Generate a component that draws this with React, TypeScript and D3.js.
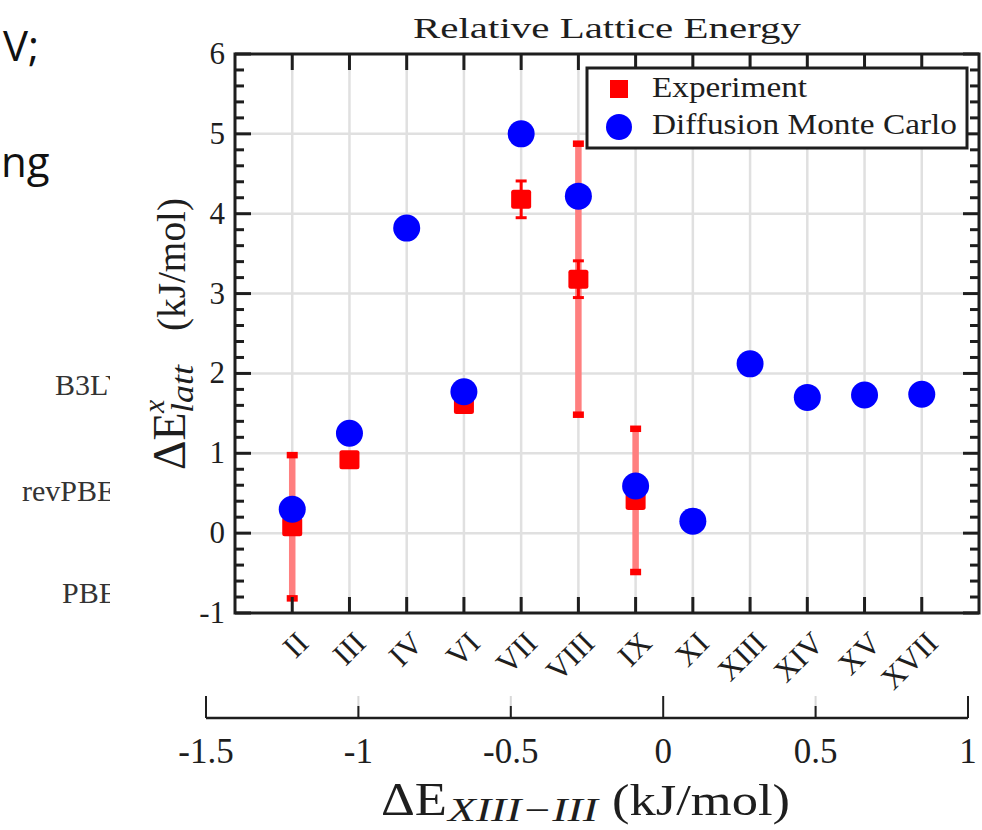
import React from "react";
import * as d3 from "d3";

const categories = ["II", "III", "IV", "VI", "VII", "VIII", "IX", "XI", "XIII", "XIV", "XV", "XVII"];
const dmcValues = [0.30, 1.25, 3.82, 1.77, 5.00, 4.22, 0.59, 0.15, 2.12, 1.70, 1.73, 1.74];
const expValues: (number | null)[] = [0.08, 0.92, null, 1.61, 4.18, 3.18, 0.41, null, null, null, null, null];
const expErrSmall: (number | null)[] = [null, null, null, null, 0.23, 0.23, null, null, null, null, null, null];
const expErrLarge: (number | null)[] = [0.9, null, null, null, null, 1.7, 0.9, null, null, null, null, null];
const yTicks = [-1, 0, 1, 2, 3, 4, 5, 6];
const bottomTicks = [-1.5, -1, -0.5, 0, 0.5, 1];
const bottomTickLabels = ["-1.5", "-1", "-0.5", "0", "0.5", "1"];
const sideLabels = ["B3LYP", "revPBE", "PBE"];

const SERIF = "'Liberation Serif', 'DejaVu Serif', serif";
const SANS = "'Open Sans', 'Liberation Sans', sans-serif";
const INK = "#1e1e1e";

export default function App() {
  const L = 235, R = 979, T = 54, B = 613;
  const x = d3.scaleLinear().domain([0, 13]).range([L, R]);
  const y = d3.scaleLinear().domain([-1, 6]).range([B, T]);
  const xb = d3.scaleLinear().domain([-1.5, 1]).range([206, 968]);
  const axisY = 718;

  const minor = d3.range(-1, 6.0001, 0.2).map((v) => Math.round(v * 10) / 10).filter((v) => Math.abs(v - Math.round(v)) > 1e-6);
  const catX = categories.map((_, i) => x(i + 1));

  return (
    <svg width={982} height={830} style={{ position: "absolute", left: 0, top: 0, background: "#fff" }}>
      <defs>
        <clipPath id="sideclip">
          <rect x={0} y={0} width={110} height={830} />
        </clipPath>
      </defs>
      <rect x={0} y={0} width={982} height={830} fill="#fff" />

      {/* clipped slide text */}
      <text x={39} y={61} textAnchor="end" fontFamily={SANS} fontSize={42} fill="#111">V;</text>
      <text x={1} y={177} fontFamily={SANS} fontSize={42} fill="#111">ng</text>
      <g clipPath="url(#sideclip)" fontFamily={SERIF} fontSize={30} fill="#333">
        <text x={55} y={395}>{sideLabels[0]}</text>
        <text x={22} y={501}>{sideLabels[1]}</text>
        <text x={62} y={603}>{sideLabels[2]}</text>
      </g>

      {/* title */}
      <text x={(L + R) / 2} y={38} textAnchor="middle" fontFamily={SERIF} fontSize={30} fill={INK} textLength={388} lengthAdjust="spacingAndGlyphs">Relative Lattice Energy</text>

      {/* grid */}
      <g stroke="#e0e0e0" strokeWidth={2.5}>
        {catX.map((cx, i) => (
          <line key={"gx" + i} x1={cx} x2={cx} y1={T} y2={B} />
        ))}
        {yTicks.filter((v) => v > -1 && v < 6).map((v) => (
          <line key={"gy" + v} x1={L} x2={R} y1={y(v)} y2={y(v)} />
        ))}
      </g>

      {/* large (light) error bars */}
      {expValues.map((v, i) => {
        const e = expErrLarge[i];
        if (v == null || e == null) return null;
        const cx = catX[i];
        return (
          <g key={"el" + i}>
            <line x1={cx} x2={cx} y1={y(v + e)} y2={y(v - e)} stroke="#ff7f7f" strokeWidth={6.5} />
            <rect x={cx - 5.5} y={y(v + e) - 3} width={11} height={6.5} fill="#ff0000" />
            <rect x={cx - 5.5} y={y(v - e) - 3.5} width={11} height={6.5} fill="#ff0000" />
          </g>
        );
      })}

      {/* small error bars */}
      {expValues.map((v, i) => {
        const e = expErrSmall[i];
        if (v == null || e == null) return null;
        const cx = catX[i];
        return (
          <g key={"es" + i} stroke="#ff0000" strokeWidth={3}>
            <line x1={cx} x2={cx} y1={y(v + e)} y2={y(v - e)} />
            <line x1={cx - 5.5} x2={cx + 5.5} y1={y(v + e)} y2={y(v + e)} />
            <line x1={cx - 5.5} x2={cx + 5.5} y1={y(v - e)} y2={y(v - e)} />
          </g>
        );
      })}

      {/* experiment squares */}
      {expValues.map((v, i) =>
        v == null ? null : (
          <rect key={"sq" + i} x={catX[i] - 10} y={y(v) - 9.5} width={20} height={19} rx={2.5} fill="#ff0000" />
        )
      )}

      {/* DMC circles */}
      {dmcValues.map((v, i) => (
        <circle key={"c" + i} cx={catX[i]} cy={y(v)} r={13.5} fill="#0000ff" />
      ))}

      {/* frame and ticks */}
      <g stroke={INK} strokeWidth={3} fill="none">
        {yTicks.map((v) => (
          <g key={"yt" + v}>
            <line x1={L} x2={L + 16} y1={y(v)} y2={y(v)} />
            <line x1={R} x2={R - 16} y1={y(v)} y2={y(v)} />
          </g>
        ))}
        {minor.map((v) => (
          <g key={"ym" + v}>
            <line x1={L} x2={L + 9} y1={y(v)} y2={y(v)} />
            <line x1={R} x2={R - 9} y1={y(v)} y2={y(v)} />
          </g>
        ))}
        {catX.map((cx, i) => (
          <g key={"xt" + i}>
            <line x1={cx} x2={cx} y1={T} y2={T + 16} />
            <line x1={cx} x2={cx} y1={B} y2={B - 16} />
          </g>
        ))}
        <rect x={L} y={T} width={R - L} height={B - T} />
      </g>

      {/* y tick labels */}
      <g fontFamily={SERIF} fontSize={31} fill={INK} textAnchor="end">
        {yTicks.map((v) => (
          <text key={"yl" + v} x={225} y={y(v) + 10}>{String(v)}</text>
        ))}
      </g>

      {/* category labels */}
      <g fontFamily={SERIF} fontSize={31} fill={INK} textAnchor="end">
        {categories.map((c, i) => (
          <text key={"cl" + c} transform={`translate(${catX[i] + 18},645) rotate(-45)`}>{c}</text>
        ))}
      </g>

      {/* y axis label (rotated frame: local x = -pageY, local y = pageX - 185) */}
      <g transform="translate(185,0) rotate(-90)" fontFamily={SERIF} fill={INK}>
        <text x={-470} y={0} fontSize={46}>ΔE</text>
        <text x={-413} y={-21} fontSize={30} fontStyle="italic">x</text>
        <text x={-413} y={8} fontSize={32} fontStyle="italic" textLength={48} lengthAdjust="spacingAndGlyphs">latt</text>
        <text x={-331} y={0} fontSize={40} textLength={133} lengthAdjust="spacingAndGlyphs">(kJ/mol)</text>
      </g>

      {/* legend */}
      <g>
        <rect x={587} y={68} width={380} height={80} fill="#fff" stroke={INK} strokeWidth={3} />
        <rect x={610} y={80} width={18} height={18} fill="#ff0000" />
        <circle cx={619} cy={127} r={13} fill="#0000ff" />
        <text x={652} y={97} fontFamily={SERIF} fontSize={29} fill={INK} textLength={155} lengthAdjust="spacingAndGlyphs">Experiment</text>
        <text x={652} y={134} fontFamily={SERIF} fontSize={29} fill={INK} textLength={305} lengthAdjust="spacingAndGlyphs">Diffusion Monte Carlo</text>
      </g>

      {/* bottom secondary axis */}
      <g>
        {bottomTicks.map((v, i) => {
          const px = xb(v);
          const dark = i === 0 || v === 0 || i === bottomTicks.length - 1;
          return (
            <g key={"bt" + v}>
              {!dark && <line x1={px} x2={px} y1={696} y2={axisY} stroke="#d8d8d8" strokeWidth={2} />}
              <line x1={px} x2={px} y1={dark ? 696 : axisY - 12} y2={axisY} stroke={INK} strokeWidth={2} />
            </g>
          );
        })}
        <line x1={xb(-1.5)} x2={xb(1)} y1={axisY} y2={axisY} stroke={INK} strokeWidth={2.5} />
        <g fontFamily={SERIF} fontSize={35} fill={INK} textAnchor="middle">
          {bottomTicks.map((v, i) => (
            <text key={"bl" + v} x={xb(v)} y={763}>{bottomTickLabels[i]}</text>
          ))}
        </g>
        <g fontFamily={SERIF} fill={INK}>
          <text x={381} y={815} fontSize={46} textLength={66} lengthAdjust="spacingAndGlyphs">ΔE</text>
          <text x={448} y={821} fontSize={33} fontStyle="italic" textLength={150} lengthAdjust="spacingAndGlyphs">{"XIII\u2212III"}</text>
          <text x={612} y={815} fontSize={44} textLength={178} lengthAdjust="spacingAndGlyphs">(kJ/mol)</text>
        </g>
      </g>
    </svg>
  );
}
